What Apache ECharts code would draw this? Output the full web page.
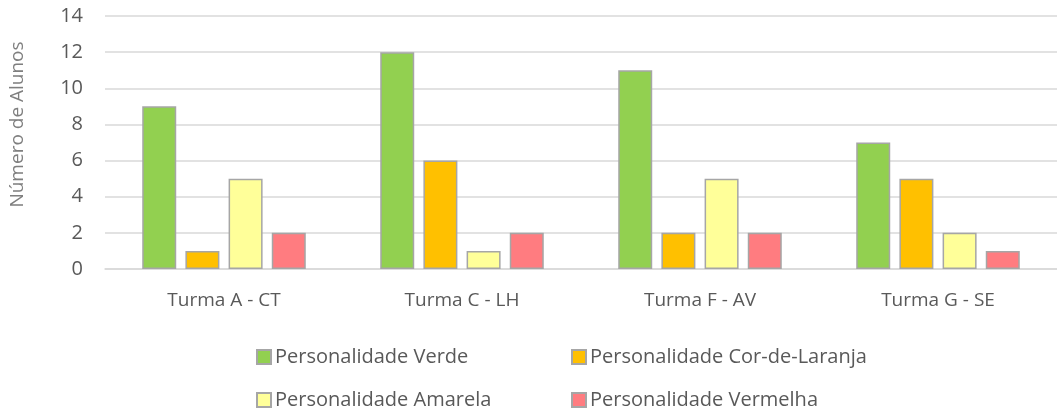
<!DOCTYPE html>
<html><head><meta charset="utf-8">
<script src="https://cdn.jsdelivr.net/npm/echarts@6/dist/echarts.min.js"></script>
<style>html,body{margin:0;padding:0;background:#fff}#c{width:1057px;height:412px}</style>
</head><body><div id="c"></div>
<script>
const categories = ['Turma A - CT', 'Turma C - LH', 'Turma F - AV', 'Turma G - SE'];
const seriesNames = ['Personalidade Verde', 'Personalidade Cor-de-Laranja', 'Personalidade Amarela', 'Personalidade Vermelha'];
const verde = [9, 12, 11, 7];
const laranja = [1, 6, 2, 5];
const amarela = [5, 1, 5, 2];
const vermelha = [2, 2, 2, 1];
const yTicks = [0, 2, 4, 6, 8, 10, 12, 14];

const colors = ['#92d050', '#ffc000', '#ffff99', '#ff7c80'];
const values = [verde, laranja, amarela, vermelha];
const font = 'Open Sans';

const chart = echarts.init(document.getElementById('c'));
const legendPos = [[256, 347], [571, 347], [256, 390], [571, 390]];
chart.setOption({
  animation: false,
  textStyle: { fontFamily: font },
  grid: { left: 100, top: 16, width: 960, height: 253, containLabel: false },
  xAxis: {
    type: 'category', data: categories,
    axisLine: { lineStyle: { color: '#d9d9d9', width: 1.5 } },
    axisTick: { show: false },
    axisLabel: { color: '#595959', fontSize: 19, fontFamily: font, margin: 22 }
  },
  yAxis: {
    type: 'value', min: yTicks[0], max: yTicks[yTicks.length - 1], interval: 2,
    name: 'Número de Alunos', nameLocation: 'middle', nameGap: 78, nameRotate: 90,
    nameTextStyle: { color: '#7f7f7f', fontSize: 19, fontFamily: font, padding: [0, 0, 0, 36] },
    axisLine: { show: false }, axisTick: { show: false },
    axisLabel: { color: '#595959', fontSize: 20, fontFamily: font, margin: 22 },
    splitLine: { lineStyle: { color: '#d9d9d9', width: 1.5 } }
  },
  legend: seriesNames.map((n, i) => ({
    data: [n], left: legendPos[i][0], top: legendPos[i][1],
    itemWidth: 14, itemHeight: 14, itemGap: 0, padding: 0,
    icon: 'rect',
    textStyle: { color: '#595959', fontSize: 20, fontFamily: font, padding: [0, 0, 0, -1] }
  })),
  series: seriesNames.map((n, i) => ({
    name: n, type: 'bar', data: values[i],
    barWidth: 34, barGap: '27%',
    itemStyle: { color: colors[i], borderColor: '#a6a6a6', borderWidth: 1.5 }
  }))
});
</script></body></html>
